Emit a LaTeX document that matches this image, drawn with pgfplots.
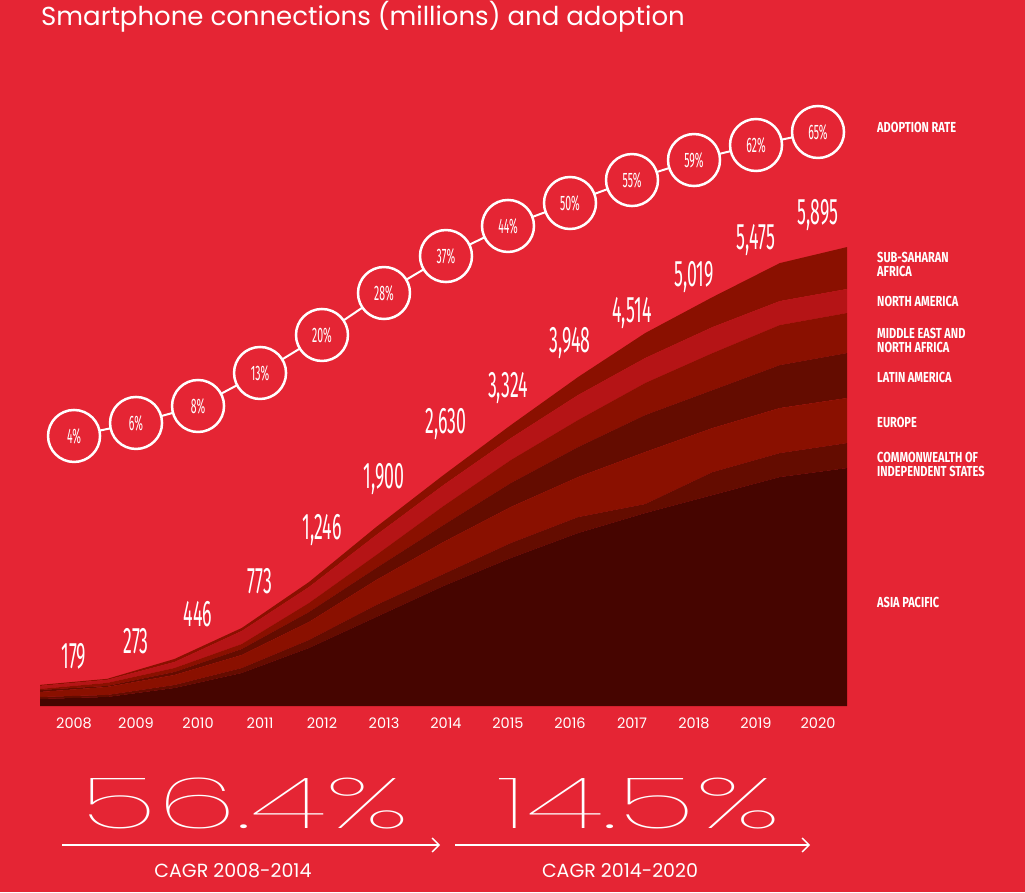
\documentclass[border=0pt]{standalone}
\usepackage{fontspec}
\usepackage{pgfplots}
\pgfplotsset{compat=1.18}
\usepackage{pgfplotstable}
\usetikzlibrary{arrows.meta}
\newfontfamily\pop{Poppins}
\newfontfamily\popthin{Poppins Thin}
\newfontfamily\fira{Fira Sans}
\definecolor{bg}{HTML}{E52534}
\definecolor{apac}{HTML}{460500}
\definecolor{dk}{HTML}{640C00}
\definecolor{md}{HTML}{8A1000}
\definecolor{lt}{HTML}{B51416}

% connections by region, millions (read off the stacked areas)
\pgfplotstableread{
x AP CIS EU LA MENA NA SSA
0 90 26 64 26 13 39 13
1 116 26 103 13 39 39 13
2 231 39 128 39 51 77 39
3 424 64 167 77 64 167 39
4 745 103 231 128 116 205 64
5 1143 154 321 154 167 257 103
6 1541 154 411 218 244 270 128
7 1900 193 462 308 295 282 167
8 2221 205 514 385 347 321 231
9 2478 116 668 475 411 321 321
10 2709 295 565 488 475 334 385
11 2940 308 578 552 514 308 488
12 3056 321 578 578 514 308 539
}\regions

% total labels: x, label baseline, total
\pgfplotstableread{
x y lab
0.506 488 179
1.428 668 273
2.350 1015 446
3.272 1451 773
4.193 2132 1,246
5.115 2787 1,900
6.037 3506 2,630
6.959 3956 3,324
7.881 4546 3,948
8.803 4919 4,514
9.725 5394 5,019
10.647 5869 5,475
11.569 6190 5,895
}\totals

% adoption rate circles: x, circle height, rate in percent
\pgfplotstableread{
x y rate
0.506 3468 4
1.428 3635 6
2.350 3853 8
3.272 4277 13
4.193 4765 20
5.115 5304 28
6.037 5779 37
6.959 6165 44
7.881 6460 50
8.803 6755 55
9.725 7012 59
10.647 7205 62
11.569 7372 65
}\adopt

\newcommand\lab[1]{\scalebox{0.76}[1]{\fira\bfseries\fontsize{14.5}{15}\selectfont #1}}

\pgfplotsset{base/.style={
  at={(40pt,186pt)}, anchor=south west,
  scale only axis, width=807pt, height=467.18pt,
  xmin=0, xmax=12, ymin=0, ymax=6000,
  enlargelimits=false}}

\begin{document}
\begin{tikzpicture}[x=1pt,y=1pt]
\fill[bg] (0,0) rectangle (1025,892);
\useasboundingbox (0,0) rectangle (1025,892);

\begin{axis}[base,
  stack plots=y,
  axis line style={draw=none},
  major tick length=0pt,
  ytick=\empty,
  xtick={0.506,1.428,2.350,3.272,4.193,5.115,6.037,6.959,7.881,8.803,9.725,10.647,11.569},
  xticklabels={2008,2009,2010,2011,2012,2013,2014,2015,2016,2017,2018,2019,2020},
  xticklabel style={font=\pop\fontsize{14.5}{15}\selectfont, text=white, anchor=base, yshift=-22pt},
  ]
\addplot[fill=apac, draw=none] table[y=AP]{\regions} \closedcycle;
\addplot[fill=dk, draw=none] table[y=CIS]{\regions} \closedcycle;
\addplot[fill=md, draw=none] table[y=EU]{\regions} \closedcycle;
\addplot[fill=dk, draw=none] table[y=LA]{\regions} \closedcycle;
\addplot[fill=md, draw=none] table[y=MENA]{\regions} \closedcycle;
\addplot[fill=lt, draw=none] table[y=NA]{\regions} \closedcycle;
\addplot[fill=md, draw=none] table[y=SSA]{\regions} \closedcycle;
\end{axis}

\begin{axis}[base, hide axis, clip=false]
\addplot[draw=none, mark=none, point meta=explicit symbolic,
  nodes near coords={\fira\fontsize{37}{37}\selectfont\scalebox{0.48}[1]{\pgfplotspointmeta}},
  every node near coord/.append style={anchor=base, text=white, inner sep=0pt}]
  table[meta=lab]{\totals};
\addplot[white, line width=2pt, mark=*, mark size=26pt,
  mark options={fill=bg, draw=white, line width=2.5pt},
  point meta=explicit symbolic,
  nodes near coords={\fira\fontsize{21}{21}\selectfont\scalebox{0.5}[1]{\pgfplotspointmeta\%}},
  every node near coord/.append style={anchor=center, text=white, inner sep=0pt}]
  table[meta=rate]{\adopt};
\end{axis}

\node[anchor=base west, inner sep=0pt, text=white] at (41,866)
  {\pop\fontsize{26}{30}\selectfont Smartphone connections (millions) and adoption};

\foreach \t/\y in {ADOPTION RATE/759, SUB-SAHARAN/629, AFRICA/615, NORTH AMERICA/585,
  MIDDLE EAST AND/553, NORTH AFRICA/539, LATIN AMERICA/509, EUROPE/464,
  COMMONWEALTH OF/429, INDEPENDENT STATES/415, ASIA PACIFIC/284}
  \node[anchor=base west, inner sep=0pt, text=white] at (877,\y) {\lab{\t}};

\node[anchor=base, inner sep=0pt, text=white] at (245,64)
  {\scalebox{1.82}[1]{\popthin\fontsize{71}{71}\selectfont 56.4\%}};
\node[anchor=base, inner sep=0pt, text=white] at (639,64)
  {\scalebox{1.85}[1]{\popthin\fontsize{71}{71}\selectfont 14.5\%}};
\draw[white, line width=1.3pt, -{Straight Barb[length=7pt,width=14pt]}] (62,47) -- (440,47);
\draw[white, line width=1.3pt, -{Straight Barb[length=7pt,width=14pt]}] (455,47) -- (810,47);
\node[anchor=base, inner sep=0pt, text=white] at (233,15)
  {\pop\fontsize{19}{20}\selectfont CAGR 2008-2014};
\node[anchor=base, inner sep=0pt, text=white] at (620,15)
  {\pop\fontsize{19}{20}\selectfont CAGR 2014-2020};
\end{tikzpicture}
\end{document}
